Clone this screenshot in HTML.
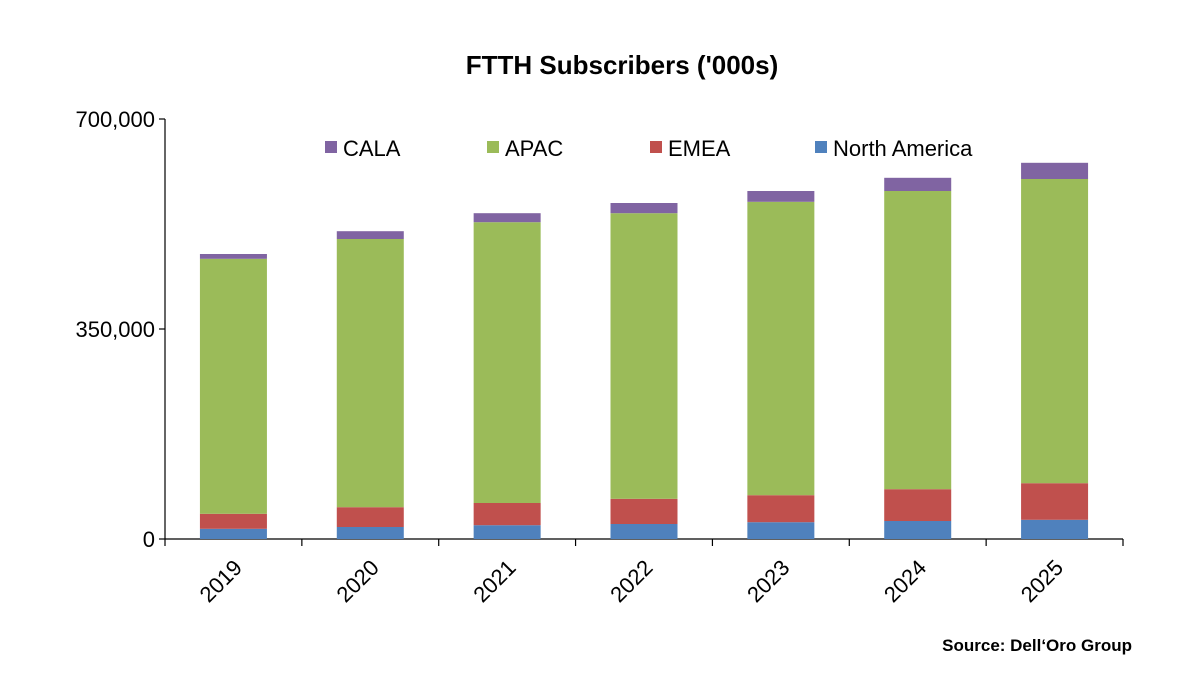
<!DOCTYPE html>
<html><head><meta charset="utf-8"><style>
html,body{margin:0;padding:0;background:#fff;width:1200px;height:685px;overflow:hidden;font-family:"Liberation Sans",Arial,sans-serif}
</style></head><body>
<svg width="1200" height="685" xmlns="http://www.w3.org/2000/svg">
<text x="622" y="74" text-anchor="middle" font-size="26" font-weight="bold">FTTH Subscribers ('000s)</text>
<g id="axes"></g>
<g id="bars"></g>
<g id="legend"></g>
<text x="1132" y="651" text-anchor="end" font-size="17" font-weight="bold">Source: Dell‘Oro Group</text>
</svg>
<script>
const categories = ["2019","2020","2021","2022","2023","2024","2025"];
const northAmerica = [17, 20, 23, 25, 28, 30, 32];
const emea = [25, 33, 37, 42, 45, 53, 61];
const apac = [425, 447, 468, 476, 489, 497, 507];
const cala = [8, 13, 15, 17, 18, 22, 27];
const yTicks = [0, 350000, 700000];
const yTickLabels = ["0", "350,000", "700,000"];

const NS = "http://www.w3.org/2000/svg";
const x0 = 165, x1 = 1123, y0 = 539, yTop = 119, yMax = 700;
const bw = (x1 - x0) / categories.length;
const barW = 67;
function yScale(v){ return y0 - v / yMax * (y0 - yTop); }
function xCenter(i){ return x0 + bw * (i + 0.5); }
function mk(tag, attrs, parent){ const e = document.createElementNS(NS, tag); for (const k in attrs) e.setAttribute(k, attrs[k]); parent.appendChild(e); return e; }

const axes = document.getElementById('axes');
const yAxis = mk('line', {x1:x0, y1:yTop, x2:x0, y2:y0, stroke:'#000', 'stroke-width':1.2}, axes);


const xAxis = mk('line', {x1:x0, y1:y0, x2:x1, y2:y0, stroke:'#000', 'stroke-width':1.2}, axes);


yTicks.forEach((t, i) => {
  const y = yScale(t / 1000);
  const tk = mk('line', {x1:x0 - 6, y1:y, x2:x0, y2:y, stroke:'#000', 'stroke-width':1.2}, axes);
  
  
  const lb = mk('text', {x:x0 - 10, y:y + 8, 'text-anchor':'end', 'font-size':22}, axes);
  lb.textContent = yTickLabels[i];
  
  
});
for (let i = 0; i <= categories.length; i++) {
  const x = x0 + bw * i;
  const tk = mk('line', {x1:x, y1:y0, x2:x, y2:y0 + 7, stroke:'#000', 'stroke-width':1.2}, axes);
  
  
}
categories.forEach((c, i) => {
  const cx = xCenter(i) + 10, cy = y0 + 30;
  const lb = mk('text', {x:cx, y:cy, 'text-anchor':'end', 'font-size':22, transform:`rotate(-45 ${cx} ${cy})`}, axes);
  lb.textContent = c;
  
  
});

const series = [
  {name:'north-america', vals:northAmerica, color:'#4F81BD'},
  {name:'emea', vals:emea, color:'#C0504D'},
  {name:'apac', vals:apac, color:'#9BBB59'},
  {name:'cala', vals:cala, color:'#8064A2'}
];
const bars = document.getElementById('bars');
categories.forEach((c, i) => {
  let cum = 0;
  series.forEach(s => {
    const v = s.vals[i];
    const yT = yScale(cum + v), yB = yScale(cum);
    const r = mk('rect', {x:xCenter(i) - barW / 2, y:yT, width:barW, height:yB - yT, fill:s.color}, bars);
    
    
    cum += v;
  });
});

const legendItems = [
  {label:'CALA', color:'#8064A2', mx:325},
  {label:'APAC', color:'#9BBB59', mx:487},
  {label:'EMEA', color:'#C0504D', mx:650},
  {label:'North America', color:'#4F81BD', mx:815}
];
const legend = document.getElementById('legend');
legendItems.forEach(it => {
  const m = mk('rect', {x:it.mx, y:141, width:12, height:12, fill:it.color}, legend);
  
  
  const t = mk('text', {x:it.mx + 18, y:156, 'font-size':22}, legend);
  t.textContent = it.label;
  
  
});
</script>
</body></html>
